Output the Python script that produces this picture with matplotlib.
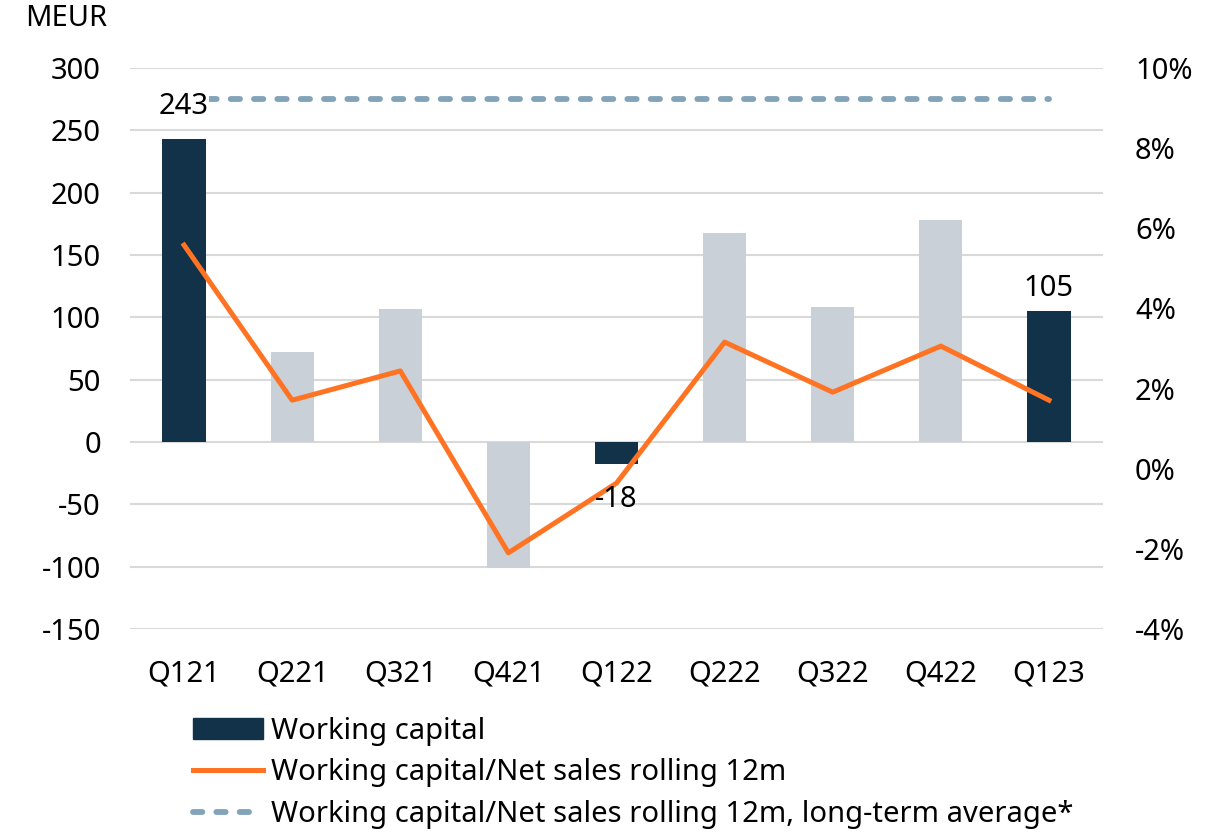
import matplotlib.pyplot as plt
from matplotlib.lines import Line2D
from matplotlib.patches import Patch

plt.rcParams['font.family'] = ['Noto Sans', 'DejaVu Sans']
plt.rcParams['axes.unicode_minus'] = False

quarters = ['Q121', 'Q221', 'Q321', 'Q421', 'Q122', 'Q222', 'Q322', 'Q422', 'Q123']
working_capital = [243, 72, 107, -101, -18, 168, 108, 178, 105]
highlight = [True, False, False, False, True, False, False, False, True]
ratio_pct = [5.58, 1.71, 2.44, -2.1, -0.36, 3.16, 1.91, 3.06, 1.71]
long_term_avg = 9.22
left_ticks = [-150, -100, -50, 0, 50, 100, 150, 200, 250, 300]
right_ticks = [-4, -2, 0, 2, 4, 6, 8, 10]

dark = '#12324a'
light = '#c9d0d7'
orange = '#ff7322'
avg_col = '#82a3b8'
fs = 21

fig = plt.figure(figsize=(12.18, 8.33), dpi=100)
ax = fig.add_axes([130 / 1218, 1 - 629 / 833, (1103 - 130) / 1218, (629 - 68) / 833])
x = list(range(len(quarters)))
colors = [dark if h else light for h in highlight]
ax.bar(x, working_capital, width=0.4, color=colors, zorder=2)
ax.set_ylim(-150, 300)
ax.set_xlim(-0.5, len(quarters) - 0.5)
ax.set_yticks(left_ticks)
ax.set_xticks(x)
ax.set_xticklabels(quarters)
ax.grid(axis='y', color='#d9d9d9', linewidth=1.5, zorder=0)
for s in ax.spines.values():
    s.set_visible(False)
ax.tick_params(length=0, labelsize=fs)
ax.tick_params(axis='x', pad=22)
ax.tick_params(axis='y', pad=21)

ax2 = ax.twinx()
ax2.set_ylim(-4, 10)
ax2.set_yticks(right_ticks)
ax2.set_yticklabels([f'{t}%' for t in right_ticks])
for s in ax2.spines.values():
    s.set_visible(False)
ax2.tick_params(length=0, labelsize=fs, pad=23)
ax2.plot(x, ratio_pct, color=orange, linewidth=3.6, zorder=3)
ax2.plot([x[0], x[-1]], [long_term_avg, long_term_avg], color=avg_col, linewidth=4.2,
         dashes=(1.6, 2.4), dash_capstyle='round', zorder=1)

for i, v in enumerate(working_capital):
    if highlight[i]:
        if i == 0:
            off = 13
        elif v >= 0:
            off = 6
        else:
            off = -15
        ax2.annotate(str(v), (i, v), xycoords=ax.transData, xytext=(0, off),
                     textcoords='offset points', ha='center',
                     va='bottom' if v >= 0 else 'top', fontsize=fs, zorder=5,
                     bbox=dict(facecolor='white', edgecolor='none', pad=0)
                     if i == 0 else None)

fig.text(25 / 1218, 1 - 18 / 833, 'MEUR', fontsize=fs, va='center', ha='left')

handles = [Patch(color=dark),
           Line2D([], [], color=orange, linewidth=3.6),
           Line2D([], [], color=avg_col, linewidth=4.2, dashes=(1.6, 2.4),
                  dash_capstyle='round')]
labels = ['Working capital', 'Working capital/Net sales rolling 12m',
          'Working capital/Net sales rolling 12m, long-term average*']
fig.legend(handles, labels, loc='upper left', bbox_to_anchor=(178 / 1218, 1 - 702 / 833),
           frameon=False, fontsize=fs, handlelength=2.4, handleheight=0.7,
           handletextpad=0.3, labelspacing=0.44, borderpad=0)

fig.savefig('out.png', dpi=100)
